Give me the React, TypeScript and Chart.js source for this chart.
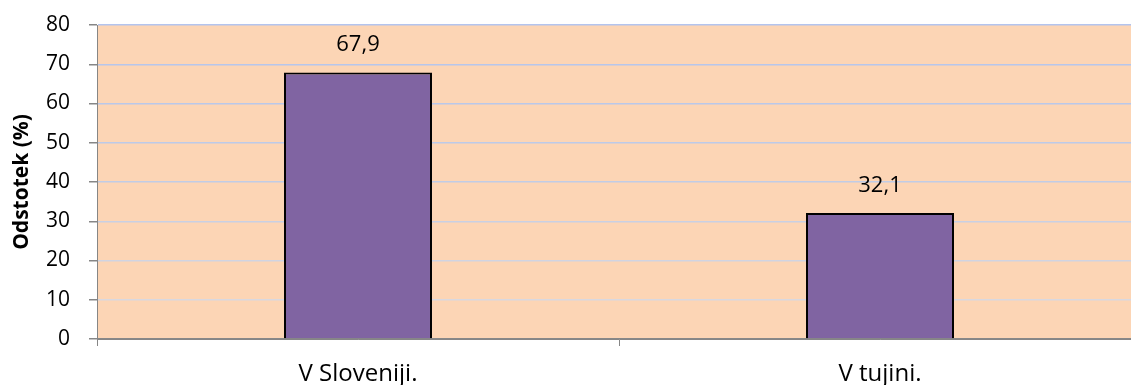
import React, { useEffect, useRef } from "react";
import { Chart, registerables } from "chart.js";

Chart.register(...registerables);

const categories = ["V Sloveniji.", "V tujini."];
const values = [67.9, 32.1];
const valueLabels = ["67,9", "32,1"];
const yTicks = [0, 10, 20, 30, 40, 50, 60, 70, 80];
const yTitle = "Odstotek (%)";

const FONT = "'Open Sans', sans-serif";

const gridColors: Record<number, string> = {
  80: "#b3c4ee",
  70: "#b6c6ec",
  60: "#b9c8ea",
  50: "#bccae8",
  40: "#c0cce6",
  30: "#c8d0e4",
  20: "#d0d4e2",
  10: "#d8d8e0",
  0: "#888888",
};

const bgPlugin = {
  id: "plotBg",
  beforeDraw(chart: any) {
    const { ctx, chartArea } = chart;
    ctx.save();
    ctx.fillStyle = "#fcd5b5";
    ctx.fillRect(chartArea.left, chartArea.top, chartArea.right - chartArea.left, chartArea.bottom - chartArea.top);
    ctx.restore();
  },
};

const labelPlugin = {
  id: "valueLabels",
  afterDatasetsDraw(chart: any) {
    const { ctx } = chart;
    const meta = chart.getDatasetMeta(0);
    ctx.save();
    ctx.font = `22px ${FONT}`;
    ctx.fillStyle = "#000";
    ctx.textAlign = "center";
    ctx.textBaseline = "alphabetic";
    meta.data.forEach((bar: any, i: number) => {
      ctx.fillText(valueLabels[i], bar.x, bar.y - 21);
    });
    ctx.restore();
  },
};

export default function App() {
  const ref = useRef<HTMLCanvasElement>(null);
  useEffect(() => {
    document.body.style.margin = "0";
    document.body.style.overflow = "hidden";
    const chart = new Chart(ref.current!, {
      type: "bar",
      data: {
        labels: categories,
        datasets: [
          {
            data: values,
            backgroundColor: "#8064a2",
            borderColor: "#000000",
            borderWidth: 2,
            categoryPercentage: 1,
            barPercentage: 0.2835,
          },
        ],
      },
      plugins: [bgPlugin, labelPlugin],
      options: {
        responsive: false,
        animation: false,
        layout: { padding: { top: 25, left: 0, right: 0, bottom: 0 } },
        plugins: { legend: { display: false }, tooltip: { enabled: false } },
        scales: {
          x: {
            grid: {
              offset: true,
              drawOnChartArea: false,
              color: "#868686",
              tickLength: 7,
            },
            border: { color: "#868686", width: 1 },
            ticks: { color: "#000", font: { size: 24, family: FONT }, padding: 14 },
            afterFit: (s: any) => {
              s.height = 46;
              s.paddingLeft = 0;
              s.paddingRight = 0;
            },
          },
          y: {
            min: 0,
            max: 80,
            afterBuildTicks: (s: any) => {
              s.ticks = yTicks.map((v) => ({ value: v }));
            },
            grid: {
              color: (c: any) => gridColors[c.tick?.value] ?? "#cccccc",
              tickColor: "#868686",
              tickLength: 8,
              lineWidth: 1.5,
            },
            border: { color: "#868686", width: 1 },
            ticks: { color: "#000", font: { size: 21, family: FONT }, padding: 19 },
            title: {
              display: true,
              text: yTitle,
              color: "#000",
              font: { size: 21, weight: "bold", family: FONT },
              padding: { top: 9, bottom: 0 },
            },
            afterFit: (s: any) => {
              s.width = 97;
              s.paddingTop = 0;
              s.paddingBottom = 0;
            },
          },
        },
      },
    });
    return () => chart.destroy();
  }, []);
  return (
    <div style={{ position: "fixed", left: 0, top: 0, width: 1131, height: 385, overflow: "hidden", background: "#fff" }}>
      <canvas ref={ref} width={1141} height={385} style={{ display: "block", width: 1141, height: 385 }} />
    </div>
  );
}
